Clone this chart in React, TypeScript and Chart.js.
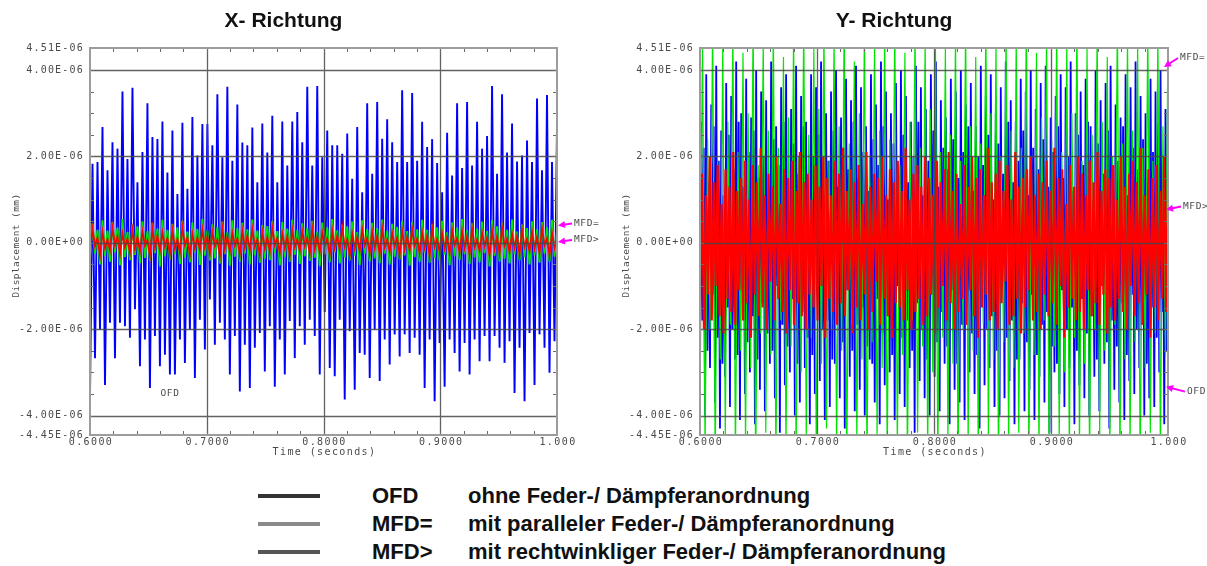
import React, { useEffect, useRef } from 'react';
import { Chart, registerables } from 'chart.js';

Chart.register(...registerables);

// ---- axes -------------------------------------------------------------
const T_START = 0.6;
const T_END = 1.0;
const MICRO = 1e-6; // values below are given in 1E-06 mm
const Y_MIN = -4.45;
const Y_MAX = 4.51;

const yTickValues = [4.51, 4.0, 2.0, 0, -2.0, -4.0, -4.45];
const yTickLabels = ['4.51E-06', '4.00E-06', '2.00E-06', '0.00E+00', '-2.00E-06', '-4.00E-06', '-4.45E-06'];
const yGridValues = [4.0, 2.0, 0, -2.0, -4.0];
const yMinorTicks = [-4.0, -3.5, -3.0, -2.5, -2.0, -1.5, -1.0, -0.5, 0, 0.5, 1.0, 1.5, 2.0, 2.5, 3.0, 3.5, 4.0];
const xTickValues = [0.6, 0.7, 0.8, 0.9, 1.0];
const xTickLabels = ['0.6000', '0.7000', '0.8000', '0.9000', '1.000'];
const xGridValues = [0.7, 0.8, 0.9];
const xMinorTicks = [0.62, 0.64, 0.66, 0.68, 0.7, 0.72, 0.74, 0.76, 0.78, 0.8, 0.82, 0.84, 0.86, 0.88, 0.9, 0.92, 0.94, 0.96, 0.98];

// ---- X-Richtung: successive troughs / peaks of each trace ---------------
const ofdXTroughs = [-3.6, -2.67, -2.0, -3.29, -1.85, -2.67, -1.85, -1.93, -2.2, -1.54, -2.86, -2.24, -3.36, -2.16, -2.86, -2.59, -3.05, -3.05, -2.24, -2.78, -2.0, -3.13, -1.78, -2.47, -1.31, -2.36, -1.85, -2.24, -3.05, -2.16, -3.44, -2.36, -3.36, -2.43, -2.09, -2.98, -1.93, -3.33, -2.24, -3.05, -1.81, -2.67, -1.93, -2.36, -1.78, -2.16, -3.05, -1.6, -2.9,
  -3.09, -1.78, -3.63, -2.05, -3.4, -2.55, -2.59, -3.13, -2.01, -3.2, -2.24, -2.82, -2.12, -2.63, -2.12, -2.55, -2.2, -2.59, -3.36, -2.24, -3.67, -2.32, -3.33, -2.24, -2.55, -2.98, -2.32, -3.05, -2.24, -2.74, -2.16, -2.74, -2.16, -2.43, -2.78, -2.28, -3.48, -2.43, -3.67, -2.09, -3.29, -2.12, -2.43, -3.01, -2.28];
const ofdXPeaks = [1.83, 1.87, 2.68, 1.68, 2.33, 2.18, 3.5, 1.94, 3.59, 1.4, 2.1, 3.23, 2.45, 2.4, 2.81, 1.63, 2.6, 1.13, 2.78, 1.25, 2.91, 2.02, 2.75, 2.75, 2.26, 3.44, 1.98, 3.61, 1.9, 3.2, 2.32, 2.26, 2.67, 1.4, 2.76, 2.09, 2.94, 1.4, 2.81, 1.79, 2.81, 3.03, 2.33, 3.61, 1.79, 3.63, 1.98, 2.6, 2.26,
  2.26, 2.06, 2.53, 1.48, 2.68, 1.17, 3.23, 1.6, 3.26, 2.41, 2.86, 2.33, 1.87, 3.53, 1.87, 3.47, 1.9, 2.8, 2.22, 2.4, 1.85, 1.17, 2.55, 1.56, 3.23, 1.73, 3.26, 1.79, 2.8, 2.18, 2.47, 3.63, 1.6, 3.44, 2.09, 2.76, 1.88, 2.02, 2.37, 1.87, 3.34, 1.68, 3.42, 1.87, 2.72];

const mfdParXTroughs = [-0.38, -0.25, -0.5, -0.3, -0.44, -0.22, -0.52, -0.33, -0.4, -0.28, -0.47, -0.35, -0.42, -0.24, -0.55, -0.31, -0.39, -0.27, -0.49, -0.34, -0.45, -0.23, -0.51, -0.3, -0.41, -0.36, -0.48, -0.26, -0.53, -0.32, -0.43, -0.25, -0.5, -0.29, -0.46, -0.37, -0.4, -0.24, -0.52, -0.33, -0.44, -0.28, -0.49, -0.31, -0.42, -0.35, -0.54, -0.27,
  -0.45, -0.22, -0.48, -0.34, -0.41, -0.3, -0.51, -0.26, -0.43, -0.36, -0.47, -0.25, -0.5, -0.32, -0.39, -0.29, -0.53, -0.33, -0.44, -0.23, -0.46, -0.35, -0.42, -0.28, -0.52, -0.31, -0.4, -0.26, -0.49, -0.34, -0.45, -0.24, -0.55, -0.3, -0.43, -0.37, -0.48, -0.27, -0.41, -0.33, -0.5, -0.29, -0.46, -0.25, -0.44, -0.32];
const mfdParXPeaks = [0.45, 0.3, 0.52, 0.28, 0.48, 0.35, 0.55, 0.25, 0.42, 0.38, 0.5, 0.27, 0.46, 0.33, 0.53, 0.3, 0.44, 0.36, 0.51, 0.26, 0.47, 0.32, 0.55, 0.29, 0.43, 0.37, 0.49, 0.24, 0.52, 0.34, 0.46, 0.31, 0.54, 0.28, 0.41, 0.39, 0.5, 0.27, 0.48, 0.33, 0.53, 0.3, 0.45, 0.35, 0.51, 0.26, 0.47, 0.36,
  0.55, 0.29, 0.42, 0.38, 0.49, 0.25, 0.52, 0.32, 0.46, 0.34, 0.54, 0.28, 0.44, 0.37, 0.5, 0.27, 0.48, 0.31, 0.53, 0.3, 0.43, 0.36, 0.51, 0.24, 0.47, 0.35, 0.55, 0.29, 0.45, 0.33, 0.49, 0.27, 0.52, 0.38, 0.46, 0.3, 0.54, 0.26, 0.42, 0.34, 0.5, 0.31, 0.48, 0.36, 0.53, 0.28];

const mfdRectXTroughs = [-0.22, -0.08, -0.3, -0.12, -0.18, -0.06, -0.27, -0.1, -0.24, -0.14, -0.2, -0.07, -0.31, -0.11, -0.19, -0.09, -0.26, -0.13, -0.23, -0.06, -0.28, -0.12, -0.17, -0.1, -0.25, -0.08, -0.32, -0.14, -0.21, -0.07, -0.27, -0.11, -0.18, -0.09, -0.29, -0.13, -0.22, -0.06, -0.24, -0.12, -0.3, -0.1, -0.19, -0.08, -0.26, -0.14, -0.23,
  -0.07, -0.28, -0.11, -0.17, -0.09, -0.31, -0.13, -0.2, -0.06, -0.25, -0.12, -0.27, -0.1, -0.22, -0.08, -0.29, -0.14, -0.18, -0.07, -0.24, -0.11, -0.32, -0.09, -0.21, -0.13, -0.26, -0.06, -0.23, -0.12, -0.28, -0.1, -0.19, -0.08, -0.3, -0.14, -0.25, -0.07, -0.22, -0.11, -0.27, -0.09, -0.2, -0.13, -0.24, -0.06, -0.29, -0.12];
const mfdRectXPeaks = [0.32, 0.12, 0.25, 0.08, 0.35, 0.15, 0.22, 0.1, 0.3, 0.14, 0.27, 0.07, 0.33, 0.16, 0.24, 0.11, 0.29, 0.09, 0.36, 0.13, 0.21, 0.12, 0.31, 0.15, 0.26, 0.08, 0.34, 0.14, 0.23, 0.1, 0.28, 0.16, 0.32, 0.09, 0.25, 0.13, 0.35, 0.11, 0.22, 0.15, 0.3, 0.08, 0.27, 0.12, 0.33, 0.14, 0.24,
  0.1, 0.29, 0.16, 0.36, 0.09, 0.21, 0.13, 0.31, 0.11, 0.26, 0.15, 0.34, 0.08, 0.23, 0.12, 0.28, 0.14, 0.32, 0.1, 0.25, 0.16, 0.35, 0.09, 0.22, 0.13, 0.3, 0.11, 0.27, 0.15, 0.33, 0.08, 0.24, 0.12, 0.29, 0.14, 0.36, 0.1, 0.21, 0.16, 0.31, 0.09, 0.26, 0.13, 0.34, 0.11, 0.23, 0.15];

// ---- Y-Richtung -----------------------------------------------------------
const ofdYTroughs = [-3.2, -4.0, -2.9, -3.7, -4.3, -3.1, -3.8, -2.7, -4.1, -3.5, -3.0, -4.2, -3.4, -3.9, -2.8, -3.6, -4.4, -3.3, -3.0, -4.0, -3.7, -2.9, -4.2, -3.5, -3.2, -4.1, -3.8, -2.8, -3.6, -4.3, -3.1, -3.9, -3.4, -4.0, -2.7, -3.7, -4.2, -3.3, -3.0, -4.1, -3.5, -3.8, -2.9, -4.4, -3.2, -3.6, -4.0,
  -3.1, -3.9, -2.8, -4.2, -3.4, -3.7, -4.1, -3.0, -3.5, -4.3, -3.3, -2.9, -3.8, -4.0, -3.6, -3.2, -4.2, -2.7, -3.9, -3.4, -4.1, -3.1, -3.7, -4.4, -3.0, -3.5, -3.8, -2.9, -4.2, -3.3, -3.6, -4.0, -3.1, -3.9, -2.8, -4.3, -3.4, -3.7, -4.1, -3.2, -3.5, -2.9, -4.0, -3.6, -3.8, -3.0, -4.2];
const ofdYPeaks = [2.8, 3.9, 3.2, 4.1, 2.6, 3.7, 3.4, 4.2, 3.0, 3.8, 2.9, 4.0, 3.5, 3.3, 4.2, 2.7, 3.6, 3.9, 3.1, 4.1, 3.4, 2.8, 3.9, 3.6, 4.2, 3.0, 3.5, 4.0, 2.9, 3.8, 3.3, 4.1, 3.6, 2.7, 3.9, 3.2, 4.2, 3.5, 3.0, 3.7, 4.0, 3.4, 2.8, 4.1, 3.6, 3.1, 3.9,
  4.2, 3.3, 2.9, 3.8, 3.5, 4.0, 3.2, 3.7, 2.7, 4.1, 3.4, 3.9, 3.0, 3.6, 4.2, 3.3, 2.8, 3.8, 3.5, 4.0, 3.1, 3.7, 4.1, 2.9, 3.4, 3.9, 3.6, 4.2, 3.0, 3.5, 3.8, 2.7, 4.0, 3.3, 3.7, 4.1, 3.2, 2.9, 3.9, 3.6, 4.2, 3.4, 3.0, 3.8, 3.5, 4.0, 3.1];
// smaller in-between swings of the OFD trace
const ofdYMidTroughs = [-1.8, -2.5, -1.2, -2.2, -2.8, -1.5, -2.0, -2.6, -1.1, -2.3, -1.7, -2.7, -1.4, -2.1, -2.5, -1.0, -1.9, -2.4, -1.3, -2.8, -1.6, -2.2, -2.6, -1.2, -2.0, -1.8, -2.7, -1.4, -2.3, -1.1, -2.5, -1.9, -1.5, -2.4, -2.8, -1.3, -2.1, -1.7, -2.6, -1.0, -2.2, -1.8, -2.5, -1.4, -2.0, -2.7, -1.2,
  -2.3, -1.6, -2.4, -1.1, -2.8, -1.9, -1.5, -2.1, -2.6, -1.3, -2.0, -1.7, -2.5, -1.0, -2.2, -1.8, -2.7, -1.4, -2.3, -1.2, -2.6, -1.9, -1.6, -2.4, -2.8, -1.1, -2.0, -1.5, -2.5, -1.3, -2.1, -1.7, -2.7, -1.0, -2.3, -1.8, -2.4, -1.4, -2.6, -1.2, -2.0, -1.9, -2.8, -1.5, -2.2, -1.6, -2.5];
const ofdYMidPeaks = [2.2, 1.4, 2.7, 1.9, 1.1, 2.5, 1.7, 2.8, 1.3, 2.1, 2.6, 1.5, 2.0, 1.2, 2.4, 1.8, 2.8, 1.0, 2.3, 1.6, 2.7, 1.4, 2.0, 2.5, 1.1, 1.9, 2.6, 1.3, 2.2, 1.7, 2.8, 1.5, 2.1, 1.2, 2.4, 1.8, 2.7, 1.0, 2.3, 1.6, 2.5, 1.4, 2.0, 2.8, 1.1, 1.9, 2.6,
  1.3, 2.2, 1.7, 2.4, 1.5, 2.1, 2.7, 1.2, 2.0, 1.8, 2.5, 1.0, 2.3, 1.6, 2.8, 1.4, 1.9, 2.6, 1.1, 2.2, 1.7, 2.4, 1.3, 2.1, 2.7, 1.5, 2.0, 1.2, 2.5, 1.8, 2.8, 1.0, 2.3, 1.6, 2.6, 1.4, 1.9, 2.7, 1.1, 2.2, 1.7, 2.4, 1.3, 2.1, 2.8, 1.5, 2.0];

const mfdParYTroughs = [-2.3, -4.9, -2.0, -5.2, -2.7, -4.5, -1.9, -5.0, -2.5, -4.7, -2.9, -5.3, -2.1, -4.4, -2.6, -5.1, -1.8, -4.8, -2.4, -5.0, -3.0, -4.6, -2.2, -5.2, -2.8, -4.3, -2.0, -4.9, -2.5, -5.3, -1.9, -4.7, -2.7, -5.1, -2.3, -4.5, -2.9, -5.0, -2.1, -4.8, -2.6, -5.2, -1.8, -4.4, -2.4, -4.9, -3.0,
  -5.1, -2.2, -4.6, -2.8, -5.3, -2.0, -4.7, -2.5, -5.0, -1.9, -4.5, -2.7, -5.2, -2.3, -4.8, -2.9, -4.4, -2.1, -5.1, -2.6, -4.9, -1.8, -5.3, -2.4, -4.6, -3.0, -5.0, -2.2, -4.7, -2.8, -5.2, -2.0, -4.5, -2.5, -4.9, -1.9, -5.1, -2.7, -4.8, -2.3, -5.3, -2.9, -4.4, -2.1, -5.0, -2.6];
const mfdParYPeaks = [4.8, 2.4, 5.2, 1.9, 4.6, 2.8, 5.0, 2.1, 4.4, 3.0, 5.3, 1.8, 4.7, 2.6, 5.1, 2.2, 4.3, 2.9, 4.9, 2.0, 5.2, 2.5, 4.5, 3.1, 5.0, 1.9, 4.8, 2.7, 5.3, 2.3, 4.2, 3.0, 5.1, 2.0, 4.6, 2.6, 4.9, 2.4, 5.2, 1.8, 4.4, 2.8, 5.0, 2.2, 4.7, 3.1, 5.3,
  2.1, 4.5, 2.5, 4.9, 1.9, 5.1, 2.7, 4.3, 2.3, 5.2, 3.0, 4.6, 2.0, 5.0, 2.6, 4.8, 2.2, 5.3, 1.8, 4.4, 2.9, 4.9, 2.4, 5.1, 2.1, 4.7, 3.0, 5.2, 1.9, 4.5, 2.5, 5.0, 2.8, 4.3, 2.0, 5.3, 2.3, 4.8, 2.6, 4.6, 2.2, 5.1, 1.9, 4.9, 2.7, 5.0];

const mfdRectYTroughs = [-1.5, -2.0, -1.2, -1.8, -1.0, -1.7, -2.1, -1.3, -1.6, -1.9, -1.1, -1.8, -1.4, -2.2, -1.2, -1.7, -1.5, -2.0, -0.9, -1.8, -1.3, -1.6, -2.1, -1.1, -1.9, -1.4, -1.7, -2.0, -1.2, -1.5, -1.8, -1.0, -2.2, -1.3, -1.6, -1.9, -1.4, -1.7, -1.1, -2.1,
  -1.5, -1.8, -1.2, -2.0, -1.6, -0.9, -1.9, -1.3, -1.7, -2.2, -1.4, -1.5, -1.8, -1.1, -2.0, -1.6, -1.3, -1.9, -1.7, -1.2, -2.1, -1.5, -1.0, -1.8, -1.4, -2.0, -1.6, -1.3, -1.9, -1.1, -1.7, -2.2, -1.5, -1.2, -1.8, -1.6, -2.0, -1.4, -0.9, -1.9,
  -1.7, -1.3, -2.1, -1.5, -1.1, -1.8, -1.6, -2.0, -1.2, -1.7, -1.4, -1.9, -1.0, -2.2, -1.5, -1.3, -1.8, -1.6, -2.0, -1.1, -1.7, -1.4, -1.9, -1.2, -2.1, -1.5, -1.8, -1.3, -1.6, -2.0, -1.0, -1.7, -1.4, -1.9, -1.2, -2.2, -1.5, -1.8, -1.3, -1.6];
const mfdRectYPeaks = [1.6, 1.1, 2.0, 1.4, 1.8, 0.9, 1.7, 1.3, 2.1, 1.2, 1.5, 1.9, 1.0, 1.8, 1.4, 2.2, 1.1, 1.6, 1.3, 2.0, 0.9, 1.7, 1.5, 1.9, 1.2, 2.1, 1.4, 1.6, 1.0, 1.8, 1.3, 2.0, 1.5, 1.1, 1.9, 1.6, 2.2, 1.2, 1.7, 1.4,
  1.8, 0.9, 2.1, 1.3, 1.6, 1.5, 2.0, 1.1, 1.7, 1.4, 1.9, 1.2, 2.2, 1.0, 1.6, 1.8, 1.3, 2.0, 1.5, 1.1, 1.9, 1.4, 1.7, 2.1, 1.2, 1.6, 0.9, 1.8, 1.3, 2.0, 1.5, 1.7, 1.1, 2.2, 1.4, 1.6, 1.9, 1.2, 1.8, 1.0,
  2.1, 1.3, 1.5, 1.7, 2.0, 1.1, 1.6, 1.4, 1.9, 1.2, 2.2, 1.5, 1.7, 0.9, 1.8, 1.3, 2.0, 1.6, 1.1, 1.9, 1.4, 2.1, 1.2, 1.7, 1.5, 1.8, 1.0, 2.0, 1.3, 1.6, 1.9, 1.4, 2.2, 1.1, 1.7, 1.5, 1.8, 1.2, 2.0, 1.6];

// ---- legend ----------------------------------------------------------------
const legendCodes = ['OFD', 'MFD=', 'MFD>'];
const legendTexts = ['ohne Feder-/ Dämpferanordnung', 'mit paralleler Feder-/ Dämpferanordnung', 'mit rechtwinkliger Feder-/ Dämpferanordnung'];
const legendSwatches = ['#333333', '#8a8a8a', '#555555'];

const TRACE_COLORS = { ofd: '#0000ff', mfdPar: '#00e600', mfdRect: '#ff0000' };
const AXIS_FONT = '"DejaVu Sans Mono", monospace';
const AXIS_COLOR = '#4a4a4a';

type Pt = { x: number; y: number };

// Trough, peak and (optionally) a smaller trough/peak swing per cycle,
// laid out on an evenly sampled time base.
function buildTrace(troughs: number[], peaks: number[], midTroughs?: number[], midPeaks?: number[]): Pt[] {
  let n = Math.min(troughs.length, peaks.length);
  if (midTroughs && midPeaks) n = Math.min(n, midTroughs.length, midPeaks.length);
  const vals: number[] = [];
  for (let i = 0; i < n; i++) {
    vals.push(troughs[i], peaks[i]);
    if (midTroughs && midPeaks) vals.push(midTroughs[i], midPeaks[i]);
  }
  const last = vals.length - 1;
  return vals.map((v, i) => ({ x: T_START + ((T_END - T_START) * i) / last, y: v * MICRO }));
}

type Note = { text: string; value: number; headDx: number; tailDx: number; tailDy: number };
type InnerNote = { text: string; t: number; value: number };

type PanelCfg = {
  left: number;
  width: number;
  height: number;
  axisWidth: number;
  padRight: number;
  title: string;
  titleDx: number;
  traces: { ofd: Pt[]; mfdPar: Pt[]; mfdRect: Pt[] };
  widths: { ofd: number; mfdPar: number; mfdRect: number };
  notes: Note[];
  inner: InnerNote[];
};

function drawText(ctx: CanvasRenderingContext2D, s: string, x: number, y: number, align: CanvasTextAlign, font: string, color: string, spacing = 0) {
  ctx.save();
  ctx.font = font;
  ctx.fillStyle = color;
  ctx.textAlign = align;
  ctx.textBaseline = 'middle';
  (ctx as any).letterSpacing = `${spacing}px`;
  ctx.fillText(s, x, y);
  ctx.restore();
}

function drawArrow(ctx: CanvasRenderingContext2D, x1: number, y1: number, x2: number, y2: number) {
  const ang = Math.atan2(y2 - y1, x2 - x1);
  const len = 7;
  const half = 3.6;
  ctx.save();
  ctx.strokeStyle = '#ff00ff';
  ctx.fillStyle = '#ff00ff';
  ctx.lineWidth = 2;
  ctx.beginPath();
  ctx.moveTo(x1, y1);
  ctx.lineTo(x2 - Math.cos(ang) * len * 0.6, y2 - Math.sin(ang) * len * 0.6);
  ctx.stroke();
  ctx.beginPath();
  ctx.moveTo(x2, y2);
  ctx.lineTo(x2 - Math.cos(ang) * len - Math.sin(ang) * half, y2 - Math.sin(ang) * len + Math.cos(ang) * half);
  ctx.lineTo(x2 - Math.cos(ang) * len + Math.sin(ang) * half, y2 - Math.sin(ang) * len - Math.cos(ang) * half);
  ctx.closePath();
  ctx.fill();
  ctx.restore();
}

function framePlugin(cfg: PanelCfg) {
  return {
    id: 'frame',
    afterDatasetsDraw(chart: any) {
      const { ctx, chartArea: a, scales } = chart;
      const xs = scales.x;
      const ys = scales.y;
      ctx.save();
      // grid lines over the traces
      ctx.strokeStyle = 'rgba(70,70,70,0.85)';
      ctx.lineWidth = 1.3;
      ctx.beginPath();
      yGridValues.forEach((v) => {
        const y = Math.round(ys.getPixelForValue(v * MICRO)) + 0.5;
        ctx.moveTo(a.left, y);
        ctx.lineTo(a.right, y);
      });
      xGridValues.forEach((v) => {
        const x = Math.round(xs.getPixelForValue(v)) + 0.5;
        ctx.moveTo(x, a.top);
        ctx.lineTo(x, a.bottom);
      });
      ctx.stroke();
      // inward minor ticks
      ctx.strokeStyle = '#6a6a6a';
      ctx.lineWidth = 1;
      ctx.beginPath();
      yMinorTicks.forEach((v) => {
        const y = Math.round(ys.getPixelForValue(v * MICRO)) + 0.5;
        ctx.moveTo(a.left, y);
        ctx.lineTo(a.left + 4, y);
        ctx.moveTo(a.right, y);
        ctx.lineTo(a.right - 4, y);
      });
      xMinorTicks.forEach((v) => {
        const x = Math.round(xs.getPixelForValue(v)) + 0.5;
        ctx.moveTo(x, a.top);
        ctx.lineTo(x, a.top + 4);
        ctx.moveTo(x, a.bottom);
        ctx.lineTo(x, a.bottom - 4);
      });
      ctx.stroke();
      // plot frame
      ctx.strokeStyle = '#9c9c9c';
      ctx.lineWidth = 2;
      ctx.strokeRect(a.left, a.top, a.right - a.left, a.bottom - a.top);
      ctx.restore();
    },
    afterDraw(chart: any) {
      const { ctx, chartArea: a, scales } = chart;
      const xs = scales.x;
      const ys = scales.y;
      const tickFont = `10px ${AXIS_FONT}`;
      yTickValues.forEach((v, i) => {
        drawText(ctx, yTickLabels[i], a.left - 6, ys.getPixelForValue(v * MICRO), 'right', tickFont, AXIS_COLOR, 1.2);
      });
      xTickValues.forEach((v, i) => {
        drawText(ctx, xTickLabels[i], xs.getPixelForValue(v) + 1, a.bottom + 7, 'center', tickFont, AXIS_COLOR, 1.4);
      });
      drawText(ctx, 'Time (seconds)', (a.left + a.right) / 2 + 1, a.bottom + 17, 'center', tickFont, AXIS_COLOR, 1.4);
      ctx.save();
      ctx.translate(a.left - 73, (a.top + a.bottom) / 2 + 4);
      ctx.rotate(-Math.PI / 2);
      drawText(ctx, 'Displacement (mm)', 0, 0, 'center', `9.5px ${AXIS_FONT}`, AXIS_COLOR, 0.4);
      ctx.restore();
      // panel title
      drawText(ctx, cfg.title, (a.left + a.right) / 2 + cfg.titleDx, 21, 'center', 'bold 21px "Liberation Sans", Arial, sans-serif', '#111111');
      // curve annotations
      cfg.notes.forEach((n) => {
        const hy = ys.getPixelForValue(n.value * MICRO);
        const hx = a.right + n.headDx;
        const tx = a.right + n.tailDx;
        const ty = hy + n.tailDy;
        drawArrow(ctx, tx, ty, hx, hy);
        drawText(ctx, n.text, tx + 2, ty, 'left', `9.5px ${AXIS_FONT}`, AXIS_COLOR, 0.6);
      });
      cfg.inner.forEach((n) => {
        drawText(ctx, n.text, xs.getPixelForValue(n.t), ys.getPixelForValue(n.value * MICRO), 'center', `9.5px ${AXIS_FONT}`, AXIS_COLOR, 0.6);
      });
    },
  };
}

function makeConfig(cfg: PanelCfg): any {
  const line = (label: string, data: Pt[], color: string, order: number, width: number) => ({
    label,
    data,
    borderColor: color,
    backgroundColor: color,
    borderWidth: width,
    pointRadius: 0,
    tension: 0,
    fill: false,
    order,
  });
  return {
    type: 'line',
    data: {
      datasets: [
        line('MFD>', cfg.traces.mfdRect, TRACE_COLORS.mfdRect, 0, cfg.widths.mfdRect),
        line('MFD=', cfg.traces.mfdPar, TRACE_COLORS.mfdPar, 1, cfg.widths.mfdPar),
        line('OFD', cfg.traces.ofd, TRACE_COLORS.ofd, 2, cfg.widths.ofd),
      ],
    },
    options: {
      animation: false,
      responsive: false,
      events: [],
      layout: { padding: { left: 0, right: cfg.padRight, top: 48, bottom: 0 } },
      plugins: { legend: { display: false }, tooltip: { enabled: false }, title: { display: false } },
      scales: {
        x: {
          type: 'linear',
          min: T_START,
          max: T_END,
          grid: { display: false },
          border: { display: false },
          ticks: { display: false },
          afterFit: (s: any) => {
            s.height = 35;
          },
        },
        y: {
          type: 'linear',
          min: Y_MIN * MICRO,
          max: Y_MAX * MICRO,
          grid: { display: false },
          border: { display: false },
          ticks: { display: false },
          afterFit: (s: any) => {
            s.width = cfg.axisWidth;
          },
        },
      },
    },
    plugins: [framePlugin(cfg)],
  };
}

const panels: PanelCfg[] = [
  {
    left: 0,
    width: 604,
    height: 470,
    axisWidth: 90,
    padRight: 47,
    title: 'X- Richtung',
    titleDx: -40,
    traces: {
      ofd: buildTrace(ofdXTroughs, ofdXPeaks),
      mfdPar: buildTrace(mfdParXTroughs, mfdParXPeaks),
      mfdRect: buildTrace(mfdRectXTroughs, mfdRectXPeaks),
    },
    widths: { ofd: 1.9, mfdPar: 2, mfdRect: 1.8 },
    notes: [
      { text: 'MFD=', value: 0.4, headDx: 1, tailDx: 15, tailDy: -2 },
      { text: 'MFD>', value: 0.02, headDx: 1, tailDx: 15, tailDy: -2 },
    ],
    inner: [{ text: 'OFD', t: 0.6685, value: -3.49 }],
  },
  {
    left: 604,
    width: 603,
    height: 470,
    axisWidth: 96,
    padRight: 39,
    title: 'Y- Richtung',
    titleDx: -40,
    traces: {
      ofd: buildTrace(ofdYTroughs, ofdYPeaks, ofdYMidTroughs, ofdYMidPeaks),
      mfdPar: buildTrace(mfdParYTroughs, mfdParYPeaks),
      mfdRect: buildTrace(mfdRectYTroughs, mfdRectYPeaks),
    },
    widths: { ofd: 1.8, mfdPar: 1.2, mfdRect: 2.2 },
    notes: [
      { text: 'MFD=', value: 4.07, headDx: -4, tailDx: 10, tailDy: -9 },
      { text: 'MFD>', value: 0.77, headDx: -2, tailDx: 13, tailDy: -3 },
      { text: 'OFD', value: -3.33, headDx: -2, tailDx: 17, tailDy: 5 },
    ],
    inner: [],
  },
];

function Panel({ cfg }: { cfg: PanelCfg }) {
  const ref = useRef<HTMLCanvasElement>(null);
  useEffect(() => {
    const chart = new Chart(ref.current as HTMLCanvasElement, makeConfig(cfg));
    return () => chart.destroy();
  }, [cfg]);
  return (
    <canvas
      ref={ref}
      width={cfg.width}
      height={cfg.height}
      style={{ position: 'absolute', left: cfg.left, top: 0, width: cfg.width, height: cfg.height, display: 'block' }}
    />
  );
}

export default function App() {
  const rowY = [496, 524, 552];
  const legendFont = 'bold 22px "Liberation Sans", Arial, sans-serif';
  return (
    <div style={{ position: 'absolute', left: 0, top: 0, width: 1207, height: 566, background: '#ffffff', overflow: 'hidden' }}>
      {panels.map((p, i) => (
        <Panel key={i} cfg={p} />
      ))}
      {legendCodes.map((code, i) => (
        <React.Fragment key={code}>
          <div style={{ position: 'absolute', left: 258, top: rowY[i] - 2, width: 62, height: 4, background: legendSwatches[i] }} />
          <div style={{ position: 'absolute', left: 372, top: rowY[i] - 13, height: 26, lineHeight: '26px', font: legendFont, color: '#111', whiteSpace: 'nowrap' }}>
            {code}
          </div>
          <div style={{ position: 'absolute', left: 468, top: rowY[i] - 13, height: 26, lineHeight: '26px', font: legendFont, color: '#111', whiteSpace: 'nowrap' }}>
            {legendTexts[i]}
          </div>
        </React.Fragment>
      ))}
    </div>
  );
}
